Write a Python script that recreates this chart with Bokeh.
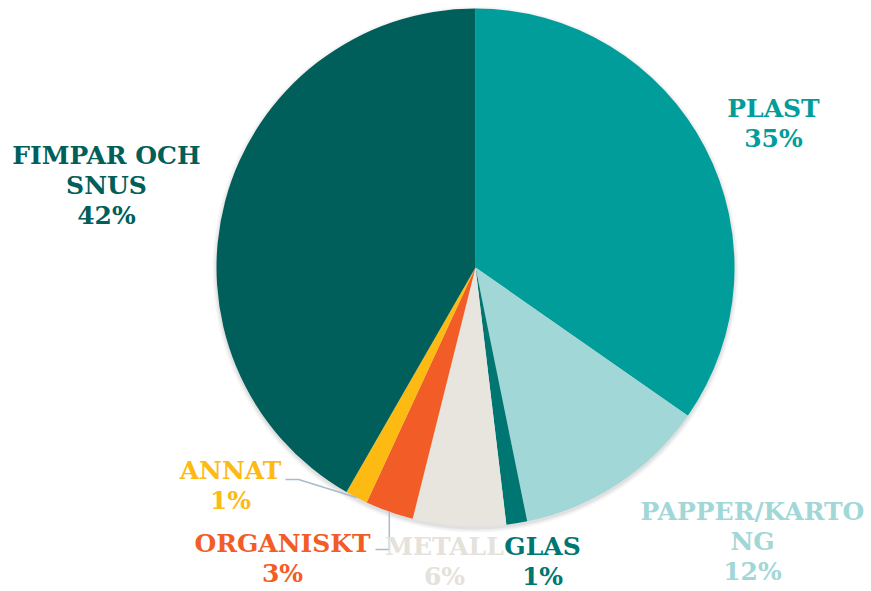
import math
from bokeh.plotting import figure
from bokeh.models import Range1d
from bokeh.core.properties import value
from bokeh.embed import file_html
from bokeh.resources import INLINE

# --- data ---
categories = ["PLAST", "PAPPER/KARTONG", "GLAS", "METALL", "ORGANISKT", "ANNAT", "FIMPAR OCH SNUS"]
label_lines = [["PLAST"], ["PAPPER/KARTO", "NG"], ["GLAS"], ["METALL"], ["ORGANISKT"], ["ANNAT"], ["FIMPAR OCH", "SNUS"]]
percents = [34.7, 12.1, 1.3, 5.8, 3.0, 1.4, 41.7]
percent_labels = ["35%", "12%", "1%", "6%", "3%", "1%", "42%"]
colors = ["#009D9A", "#A1D7D6", "#007672", "#E8E5DF", "#F25C27", "#FDBA12", "#005E5B"]
text_colors = ["#009D9A", "#A1D7D6", "#007672", "#E5E1DB", "#F25C27", "#FDBA12", "#005E5B"]

# --- layout (screen px of the page) ---
W, H = 871, 591
def dx(sx): return sx
def dy(sy): return H - sy

cx, cy, R = dx(475), dy(267), 259
# first-line centre of each label (screen coords)
label_pos = [(773, 108), (752, 511), (542, 546), (444, 546), (282, 543), (230, 470), (106, 155)]
line_h = 30
font_size = "25px"

p = figure(width=W, height=H, output_backend="svg", toolbar_location=None,
           x_range=Range1d(0, W), y_range=Range1d(0, H), min_border=0)
p.axis.visible = False
p.grid.visible = False
p.outline_line_color = None
p.background_fill_color = "white"
p.border_fill_color = "white"

# soft shadow
for i, a in enumerate([0.03, 0.04, 0.05]):
    p.circle(x=cx, y=cy - 2, radius=R + 4 - i * 1.5, fill_color="#000000", fill_alpha=a, line_color=None)

total = sum(percents)
starts, ends, mids = [], [], []
cum = 0.0
for v in percents:
    s = math.pi / 2 - 2 * math.pi * cum / total
    cum += v
    e = math.pi / 2 - 2 * math.pi * cum / total
    starts.append(s); ends.append(e); mids.append((s + e) / 2)

p.wedge(x=[cx] * len(percents), y=[cy] * len(percents), radius=R,
        start_angle=starts, end_angle=ends, direction="clock",
        fill_color=colors, line_color=None)

# leader lines for ANNAT and ORGANISKT
leader_col = "#A8BBCB"
ia = categories.index("ANNAT")
ex, ey = cx + R * math.cos(mids[ia]), cy + R * math.sin(mids[ia])
p.line([dx(285), dx(298), ex], [dy(479), dy(479), ey], line_color=leader_col, line_width=1.5)
io = categories.index("ORGANISKT")
ex, ey = cx + R * math.cos(mids[io]), cy + R * math.sin(mids[io])
p.line([dx(375), ex, ex], [dy(549), dy(549), ey], line_color=leader_col, line_width=1.5)

xs, ys, ts, cs = [], [], [], []
for i in range(len(categories)):
    sx, sy = label_pos[i]
    lines = label_lines[i] + [percent_labels[i]]
    for k, t in enumerate(lines):
        xs.append(dx(sx)); ys.append(dy(sy + k * line_h)); ts.append(t); cs.append(text_colors[i])

p.text(x=xs, y=ys, text=ts, text_color=cs, text_align="center", text_baseline="middle",
       text_font=value("DejaVu Serif"), text_font_style="bold", text_font_size=font_size)

open("out.html", "w").write(file_html(p, INLINE))
